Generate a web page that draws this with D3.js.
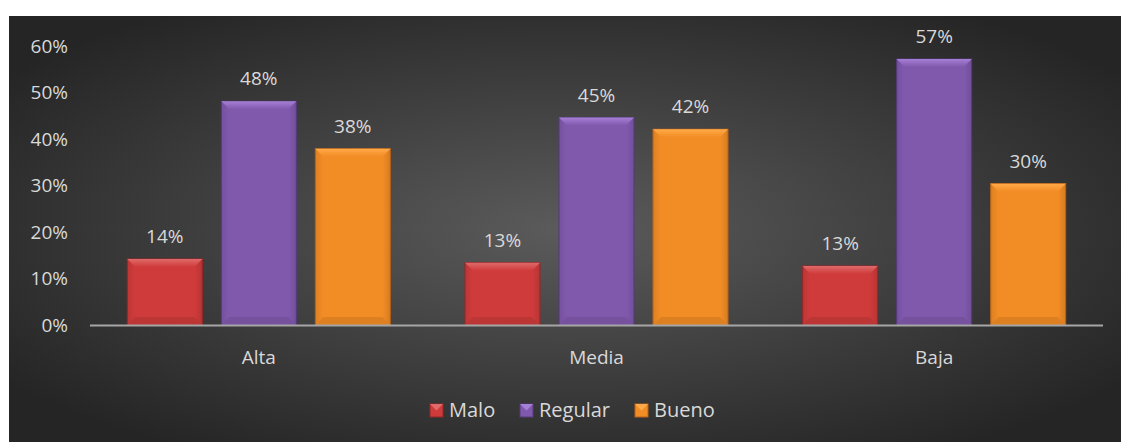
<!DOCTYPE html>
<html>
<head>
<meta charset="utf-8">
<script src="https://cdn.jsdelivr.net/npm/d3@7"></script>
<style>
  body { margin: 0; background: #fff; }
  text { font-family: "Open Sans", sans-serif; fill: #d9d9d9; }
</style>
</head>
<body>
<div id="chart"></div>
<script>
// data
var categories = ["Alta", "Media", "Baja"];
var seriesNames = ["Malo", "Regular", "Bueno"];
var malo = [0.142, 0.134, 0.127];
var regular = [0.481, 0.446, 0.572];
var bueno = [0.379, 0.421, 0.304];
var yTicks = [0, 0.1, 0.2, 0.3, 0.4, 0.5, 0.6];

var seriesValues = [malo, regular, bueno];
var colors = ["#cf3b3b", "#8059ad", "#f28c25"];
var light = ["#e06a6a", "#a67fd6", "#ffaa48"];
var dark = ["#962626", "#563a7c", "#b7621a"];

var width = 1121, height = 442;

var svg = d3.select("#chart").append("svg")
    .attr("width", width)
    .attr("height", height);

var defs = svg.append("defs");
var bg = defs.append("radialGradient").attr("id", "bg")
    .attr("cx", "50%").attr("cy", "50%").attr("r", "62%");
bg.append("stop").attr("offset", "0%").attr("stop-color", "#5b5b5b");
bg.append("stop").attr("offset", "100%").attr("stop-color", "#252525");

// horizontal shading for bar faces, vertical shading for top bevel
colors.forEach(function(c, i) {
    var g = defs.append("linearGradient").attr("id", "face" + i)
        .attr("x1", "0%").attr("x2", "100%");
    g.append("stop").attr("offset", "0%").attr("stop-color", d3.color(c).darker(0.25));
    g.append("stop").attr("offset", "10%").attr("stop-color", c);
    g.append("stop").attr("offset", "90%").attr("stop-color", c);
    g.append("stop").attr("offset", "100%").attr("stop-color", d3.color(c).darker(0.35));
    var t = defs.append("linearGradient").attr("id", "top" + i)
        .attr("x1", "0%").attr("x2", "0%").attr("y1", "0%").attr("y2", "100%");
    t.append("stop").attr("offset", "0%").attr("stop-color", light[i]);
    t.append("stop").attr("offset", "100%").attr("stop-color", c);
});

svg.append("rect")
    .attr("x", 9).attr("y", 16)
    .attr("width", width - 9).attr("height", height - 16)
    .attr("fill", "url(#bg)");

var x0 = d3.scaleBand()
    .domain(categories)
    .range([90, 1103])
    .paddingInner(0.221)
    .paddingOuter(0.1105);

var x1 = d3.scaleBand()
    .domain(seriesNames)
    .range([0, x0.bandwidth()])
    .paddingInner(0.202);

var y = d3.scaleLinear()
    .domain([0, 0.6])
    .range([325, 46]);

var pct = d3.format(".0%");

// y axis labels
svg.append("g").selectAll("text")
    .data(yTicks)
    .enter().append("text")
    .attr("x", 68)
    .attr("y", function(d) { return y(d); })
    .attr("dy", "0.35em")
    .attr("text-anchor", "end")
    .style("font-size", "19px")
    .text(pct);

var groups = svg.append("g").selectAll("g")
    .data(categories)
    .enter().append("g")
    .attr("transform", function(d) { return "translate(" + x0(d) + ",0)"; });

var bev = 8;
groups.each(function(cat, ci) {
    var g = d3.select(this);
    seriesNames.forEach(function(s, si) {
        var v = seriesValues[si][ci];
        var bx = x1(s), bw = x1.bandwidth();
        var top = y(v), bot = y(0);
        var bar = g.append("g");
        bar.append("rect")
            .attr("x", bx).attr("y", top)
            .attr("width", bw).attr("height", bot - top)
            .attr("fill", "url(#face" + si + ")")
            .attr("stroke", dark[si]).attr("stroke-width", 1);
        // top bevel
        bar.append("path")
            .attr("d", "M" + bx + "," + top + "L" + (bx + bw) + "," + top +
                "L" + (bx + bw - bev) + "," + (top + bev) + "L" + (bx + bev) + "," + (top + bev) + "Z")
            .attr("fill", "url(#top" + si + ")");
        // bottom bevel
        bar.append("path")
            .attr("d", "M" + bx + "," + bot + "L" + (bx + bw) + "," + bot +
                "L" + (bx + bw - bev) + "," + (bot - bev) + "L" + (bx + bev) + "," + (bot - bev) + "Z")
            .attr("fill", d3.color(colors[si]).darker(0.25));
        // value label
        g.append("text")
            .attr("x", bx + bw / 2)
            .attr("y", top - 16)
            .attr("text-anchor", "middle")
            .style("font-size", "19px")
            .text(pct(v));
    });
});

// baseline
svg.append("line")
    .attr("x1", 90).attr("x2", 1103)
    .attr("y1", y(0) + 0.5).attr("y2", y(0) + 0.5)
    .attr("stroke", "#a6a6a6").attr("stroke-width", 2);

// category labels
svg.append("g").selectAll("text")
    .data(categories)
    .enter().append("text")
    .attr("x", function(d) { return x0(d) + x0.bandwidth() / 2; })
    .attr("y", 364)
    .attr("text-anchor", "middle")
    .style("font-size", "19px")
    .text(function(d) { return d; });

// legend
var legendX = [430, 520, 635];
var legend = svg.append("g").selectAll("g")
    .data(seriesNames)
    .enter().append("g")
    .attr("transform", function(d, i) { return "translate(" + legendX[i] + ",404)"; });

legend.append("rect")
    .attr("width", 13).attr("height", 13)
    .attr("fill", function(d, i) { return colors[i]; })
    .attr("stroke", function(d, i) { return dark[i]; });
legend.append("path")
    .attr("d", "M0,0L13,0L6.5,6.5Z")
    .attr("fill", function(d, i) { return light[i]; });
legend.append("text")
    .attr("x", 19).attr("y", 13)
    .style("font-size", "20px")
    .text(function(d) { return d; });
</script>
</body>
</html>
